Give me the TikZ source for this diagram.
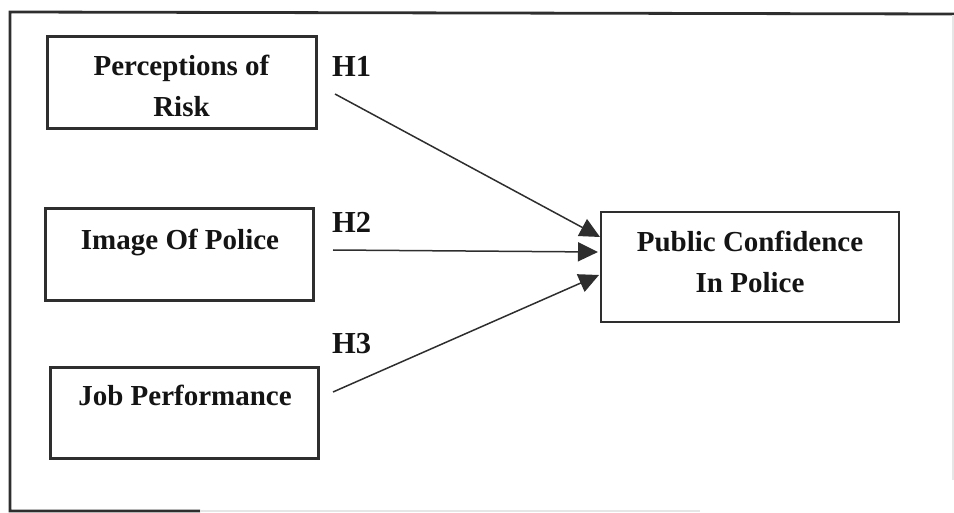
\documentclass[tikz,border=0pt]{standalone}
\usepackage{fontspec}
\setmainfont{Liberation Serif}
\usetikzlibrary{arrows.meta}
\definecolor{ink}{HTML}{141414}
\definecolor{edge}{HTML}{2E2E2E}
\definecolor{faint}{HTML}{E6E6E6}
\begin{document}
\begin{tikzpicture}[x=1pt,y=-1pt,
  box/.style={draw=edge,line width=3pt,rectangle,inner sep=0pt},
  txt/.style={text=ink,font=\fontsize{29}{41}\selectfont\bfseries,align=center,inner sep=0pt},
  hyp/.style={text=ink,font=\fontsize{30.5}{36}\selectfont\bfseries,inner sep=0pt,anchor=base west},
  conn/.style={draw=edge,line width=1.5pt,-{Triangle[length=20pt,width=19pt]}}]
\useasboundingbox (0,0) rectangle (954,513);
% frame
\draw[edge,line width=2.8pt] (954,14) -- (10,12) -- (10,511) -- (200,511);
\draw[faint,line width=1.5pt] (200,511) -- (700,511);
\draw[faint,line width=1.2pt] (953,15) -- (953,480);
% boxes
\node[box,minimum width=269pt,minimum height=92pt] (risk) at (181.5,83) {};
\node[box,minimum width=268pt,minimum height=92pt] (image) at (179,255) {};
\node[box,minimum width=268pt,minimum height=91pt] (job) at (184,412.5) {};
\node[box,line width=2pt,minimum width=298pt,minimum height=110pt] (pc) at (750,267) {};
% texts
\node[txt] (trisk) at (181.5,86) {Perceptions of\\Risk};
\node[txt,anchor=base] (timage) at (180,250) {Image Of Police};
\node[txt,anchor=base] (tjob) at (185,405) {Job Performance};
\node[txt] (tpc) at (750,262) {Public Confidence\\In Police};
% hypothesis labels
\node[hyp] (h1) at (332,77) {H1};
\node[hyp] (h2) at (332,233) {H2};
\node[hyp] (h3) at (332,353) {H3};
% connector ends
\coordinate (s1) at (335,94);
\coordinate (s2) at (333,250);
\coordinate (s3) at (333,392);
\coordinate (e1) at (600,237);
\coordinate (e2) at (598,252);
\coordinate (e3) at (599,275);
\draw[conn] (s1) -- (e1);
\draw[conn] (s2) -- (e2);
\draw[conn] (s3) -- (e3);
\end{tikzpicture}
\end{document}
